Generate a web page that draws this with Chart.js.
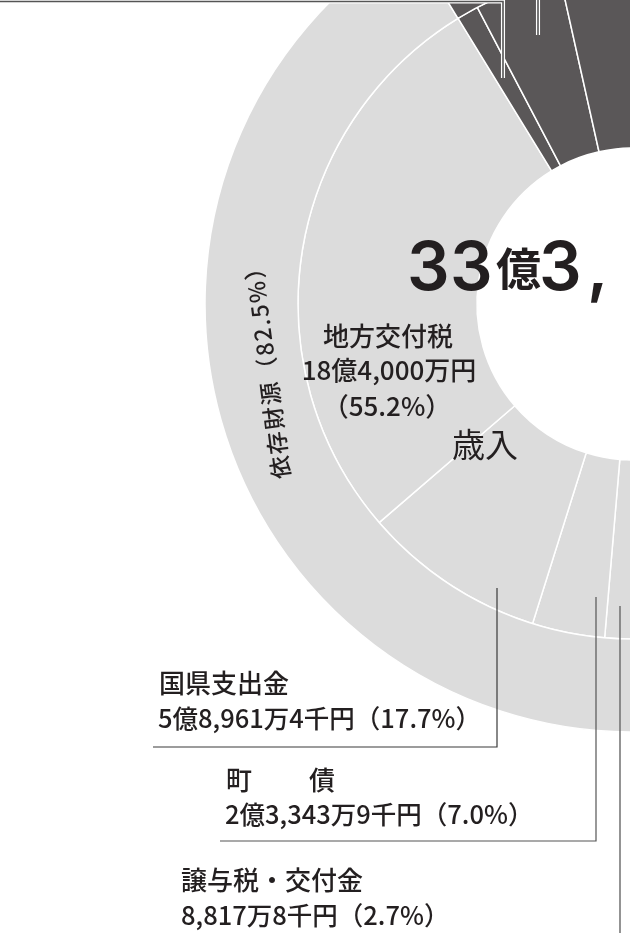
<!DOCTYPE html>
<html lang="ja">
<head>
<meta charset="utf-8">
<script src="https://cdn.jsdelivr.net/npm/chart.js@4.4.1/dist/chart.umd.min.js"></script>
<style>
  html, body { margin: 0; padding: 0; background: #fff; overflow: hidden; }
  #revenueChart { display: block; }
</style>
</head>
<body>
<canvas id="revenueChart" width="630" height="933"></canvas>
<script>
// 歳入 (left half of the ring) -- outer ring: groups, inner ring: items
var groupLabels = ['依存財源', '自主財源'];
var groupValues = [82.5, 17.5];

var itemLabels  = ['譲与税・交付金', '町債', '国県支出金', '地方交付税', 'その他', '繰入金', '町税'];
var itemValues  = [2.7, 7.0, 17.7, 55.2, 2.1, 8.4, 7.0];
var itemAmounts = ['8,817万8千円', '2億3,343万9千円', '5億8,961万4千円', '18億4,000万円', '', '', ''];

var totalParts = ['3', '3', '億', '3', ','];
var sideLabel  = '歳入';

var COLOR_LIGHT = '#dcdcdc';
var COLOR_DARK  = '#5a5758';
var TEXT_COLOR  = '#231f20';
var FONT = '"Noto Sans CJK JP", "Noto Sans", sans-serif';

function pct(v){
    return '（' + v.toFixed(1) + '%）';
}

var itemColors = itemValues.map(function(v, i){
    return i < 4 ? COLOR_LIGHT : COLOR_DARK;
});

// draw labels, leader lines and the total
var labelPlugin = {
    id: 'labelPlugin',
    afterDraw: function(chart){
        var ctx = chart.ctx;
        ctx.save();

        // leader lines
        function leader(points, color, width, halo){
            if (halo){
                ctx.beginPath();
                ctx.moveTo(points[0][0], points[0][1]);
                for (var i = 1; i < points.length; i++) ctx.lineTo(points[i][0], points[i][1]);
                ctx.strokeStyle = '#fff';
                ctx.lineWidth = width + 2.5;
                ctx.stroke();
            }
            ctx.beginPath();
            ctx.moveTo(points[0][0], points[0][1]);
            for (var j = 1; j < points.length; j++) ctx.lineTo(points[j][0], points[j][1]);
            ctx.strokeStyle = color;
            ctx.lineWidth = width;
            ctx.stroke();
        }
        leader([[0, 1.5], [503, 1.5], [503, 78]], '#555', 1.6, true);
        leader([[538, 0], [538, 35]], '#555', 1.6, true);
        leader([[497, 588], [497, 747], [153, 747]], '#3a3a3a', 1.2, false);
        leader([[596, 597], [596, 841], [220, 841]], '#555', 1.2, false);
        leader([[620, 606], [620, 933]], '#666', 1.4, false);

        ctx.fillStyle = TEXT_COLOR;

        // total in the hole
        ctx.textBaseline = 'alphabetic';
        ctx.textAlign = 'left';
        var digitFont = '600 67px Inter, "Liberation Sans", sans-serif';
        var xs = [407, 450, 496, 539, 587];
        for (var k = 0; k < totalParts.length; k++){
            if (totalParts[k] === '億'){
                ctx.font = 'bold 45px ' + FONT;
                ctx.fillText(totalParts[k], xs[k], 286);
            } else {
                ctx.font = digitFont;
                ctx.fillText(totalParts[k], xs[k], 290);
            }
        }

        ctx.textBaseline = 'middle';
        // 歳入
        ctx.textAlign = 'center';
        ctx.font = '33px ' + FONT;
        ctx.fillText(sideLabel, 485, 444);

        // 地方交付税 inside the ring
        ctx.font = '500 26px ' + FONT;
        ctx.fillText(itemLabels[3], 388, 336);
        ctx.fillText(itemAmounts[3], 389, 370);
        ctx.fillText(pct(itemValues[3]), 387, 406);

        // outer ring label, rotated
        ctx.save();
        ctx.translate(267, 367);
        ctx.rotate(-97.4 * Math.PI / 180);
        ctx.font = '500 23px ' + FONT;
        ctx.letterSpacing = '1.8px';
        ctx.fillText(groupLabels[0] + pct(groupValues[0]), 0, 0);
        ctx.restore();

        // labels below the chart
        ctx.textAlign = 'left';
        ctx.font = '500 26px ' + FONT;
        ctx.fillText(itemLabels[2], 159, 683);
        ctx.fillText('町', 226, 780);
        ctx.fillText('債', 309, 780);
        ctx.fillText(itemLabels[0], 181, 880);

        ctx.font = '500 25.5px ' + FONT;
        ctx.fillText(itemAmounts[2] + pct(itemValues[2]), 158, 718);
        ctx.fillText(itemAmounts[1] + pct(itemValues[1]), 225, 814);
        ctx.fillText(itemAmounts[0] + pct(itemValues[0]), 181, 915);

        ctx.restore();
    }
};

var ctx = document.getElementById('revenueChart').getContext('2d');
var revenueChart = new Chart(ctx, {
    type: 'doughnut',
    data: {
        labels: itemLabels,
        datasets: [{
            label: '財源',
            data: groupValues,
            backgroundColor: [COLOR_LIGHT, COLOR_DARK],
            borderColor: '#ffffff',
            borderWidth: 1.5,
            weight: 93
        },
        {
            label: '歳入',
            data: itemValues,
            backgroundColor: itemColors,
            borderColor: '#ffffff',
            borderWidth: 1.5,
            weight: 179
        }]
    },
    options: {
        responsive: false,
        animation: false,
        devicePixelRatio: 1,
        rotation: 180,
        circumference: 180,
        radius: 428,
        cutout: '36.45%',
        layout: {
            padding: { left: 209, right: 1, top: 0, bottom: 325 }
        },
        plugins: {
            legend: { display: false },
            tooltip: { enabled: false }
        }
    },
    plugins: [labelPlugin]
});
</script>
</body>
</html>
